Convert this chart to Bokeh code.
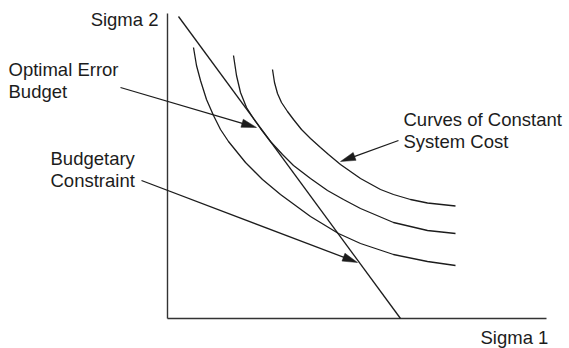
import numpy as np
from bokeh.plotting import figure
from bokeh.models import Range1d, ColumnDataSource
from bokeh.core.properties import value
from bokeh.embed import file_html
from bokeh.resources import INLINE

# Curves of constant system cost (sigma1, sigma2)
c1_x = [26, 29, 33, 39, 46, 53, 61, 78, 95, 113, 143, 171, 193, 226, 260, 288]
c1_y = [271, 253, 238, 219, 203, 189, 177, 156, 139, 124, 102, 85, 75, 64, 57, 53]
c2_x = [66, 69, 73, 79, 86, 93, 103, 115, 126, 143, 160, 176, 193, 226, 260, 288]
c2_y = [263, 243, 226, 211, 200, 190, 177, 164, 153, 140, 128, 119, 110, 96, 88, 85]
c3_x = [105, 107, 110, 114, 120, 126, 134, 143, 153, 161, 173, 193, 213, 226, 243, 260, 288]
c3_y = [249, 236, 225, 216, 207, 199, 189, 180, 171, 164, 154, 140, 129, 124, 119, 115.5, 112.5]

# Budgetary constraint line
budget_x = [11, 233]
budget_y = [302, 0]

# Axes
axis_x_len = 379
axis_y_len = 305

# Arrows: start -> tip
arrow_x0 = [-47, -26, 231]
arrow_y0 = [231, 138, 178]
arrow_x1 = [89, 190, 173]
arrow_y1 = [191, 56, 157]

# Labels
label_text = ["Optimal Error", "Budget", "Budgetary", "Constraint",
              "Curves of Constant", "System Cost", "Sigma 1"]
label_x = [-159, -159, -117, -117, 236, 236, 313]
label_y = [249, 227, 160, 138, 199, 177, -19]
sigma2_text = ["Sigma 2"]
sigma2_x = [-9]
sigma2_y = [299]

INK = "#1c1c1c"
FONT = value("Liberation Sans")
FS = "18.5px"

p = figure(width=569, height=348, output_backend="svg", toolbar_location=None,
           x_range=Range1d(-167, 402), y_range=Range1d(-30, 318),
           min_border=0, outline_line_color=None)
p.axis.visible = False
p.grid.visible = False
p.background_fill_color = "white"
p.border_fill_color = "white"

# axes lines
p.line([0, 0], [0, axis_y_len], line_color="#333333", line_width=1.4)
p.line([0, axis_x_len], [0, 0], line_color="#333333", line_width=1.4)

# curves
for xs, ys in [(c1_x, c1_y), (c2_x, c2_y), (c3_x, c3_y)]:
    p.line(xs, ys, line_color=INK, line_width=1.3)

# budget line
p.line(budget_x, budget_y, line_color=INK, line_width=1.3)

# arrows with narrow filled heads
L, W = 15.0, 4.2
seg_x, seg_y, head_x, head_y = [], [], [], []
for x0, y0, x1, y1 in zip(arrow_x0, arrow_y0, arrow_x1, arrow_y1):
    d = np.array([x1 - x0, y1 - y0], dtype=float)
    d /= np.hypot(*d)
    n = np.array([-d[1], d[0]])
    base = np.array([x1, y1]) - d * L
    seg_x.append([x0, base[0] + d[0] * 2])
    seg_y.append([y0, base[1] + d[1] * 2])
    head_x.append([x1, base[0] + n[0] * W, base[0] - n[0] * W])
    head_y.append([y1, base[1] + n[1] * W, base[1] - n[1] * W])
p.multi_line(seg_x, seg_y, line_color=INK, line_width=1.3)
p.patches(head_x, head_y, fill_color=INK, line_color=INK, line_width=0.5)

# labels
src = ColumnDataSource(dict(x=label_x, y=label_y, t=label_text))
p.text(x="x", y="y", text="t", source=src, text_font=FONT, text_font_size=FS,
       text_color=INK, text_baseline="alphabetic", text_align="left")
src2 = ColumnDataSource(dict(x=sigma2_x, y=sigma2_y, t=sigma2_text))
p.text(x="x", y="y", text="t", source=src2, text_font=FONT, text_font_size=FS,
       text_color=INK, text_baseline="alphabetic", text_align="right")

open("out.html", "w").write(file_html(p, INLINE))
